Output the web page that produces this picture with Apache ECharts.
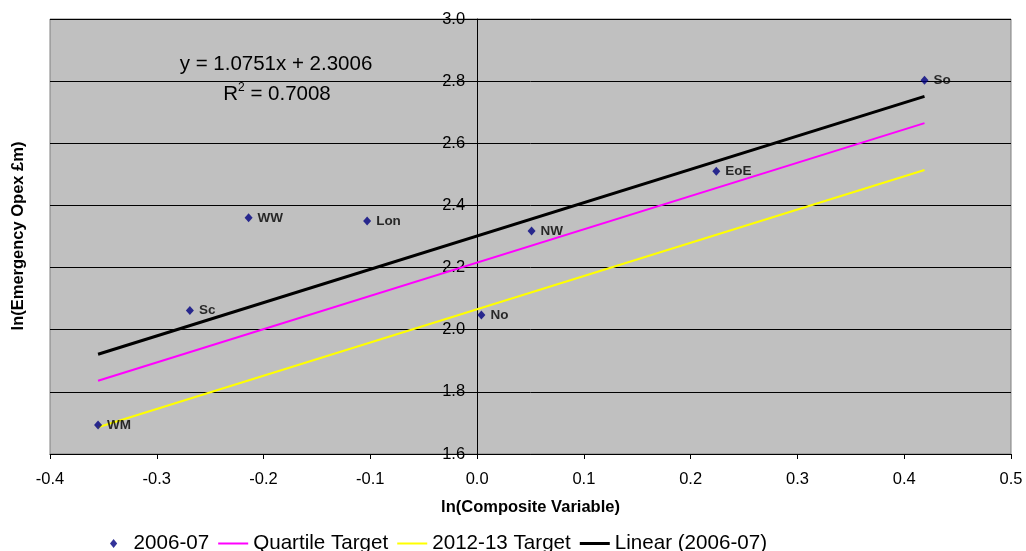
<!DOCTYPE html>
<html>
<head>
<meta charset="utf-8">
<script src="https://cdn.jsdelivr.net/npm/echarts@6/dist/echarts.min.js"></script>
<style>
html,body{margin:0;padding:0;background:#fff;}
#chart{width:1026px;height:551px;}
</style>
</head>
<body>
<div id="chart"></div>
<script>
// ---- data ----
const regionNames = ['WM', 'Sc', 'WW', 'Lon', 'No', 'NW', 'EoE', 'So'];
const compositeX = [-0.355, -0.269, -0.214, -0.103, 0.004, 0.051, 0.224, 0.419];
const opexY = [1.693, 2.062, 2.360, 2.350, 2.047, 2.318, 2.510, 2.803];

const lineX = [-0.355, 0.419];
const quartileY = [1.836, 2.665];
const target1213Y = [1.686, 2.514];
const linearY = [1.921, 2.751];

const xTicks = [-0.4, -0.3, -0.2, -0.1, 0.0, 0.1, 0.2, 0.3, 0.4, 0.5];
const yTicks = [1.6, 1.8, 2.0, 2.2, 2.4, 2.6, 2.8, 3.0];

const seriesNames = ['2006-07', 'Quartile Target', '2012-13 Target', 'Linear (2006-07)'];
const equationText = 'y = 1.0751x + 2.3006';
const r2Text = '0.7008';
const xTitle = 'ln(Composite Variable)';
const yTitle = 'ln(Emergency Opex £m)';

const FONT = '"Liberation Sans", Arial, Helvetica, sans-serif';

const scatterData = regionNames.map((n, i) => ({ name: n, value: [compositeX[i], opexY[i]] }));
const pairs = (xs, ys) => xs.map((x, i) => [x, ys[i]]);

const chart = echarts.init(document.getElementById('chart'), null, { renderer: 'canvas' });
chart.setOption({
  animation: false,
  backgroundColor: '#ffffff',
  textStyle: { fontFamily: FONT },
  grid: {
    left: 50, right: 15, top: 19, bottom: 97,
    show: true, backgroundColor: '#C0C0C0', borderColor: '#808080', borderWidth: 1
  },
  xAxis: {
    type: 'value',
    min: xTicks[0], max: xTicks[xTicks.length - 1], interval: 0.1,
    name: xTitle, nameLocation: 'middle', nameGap: 45,
    nameTextStyle: { fontSize: 16.5, fontWeight: 'bold', color: '#000', fontFamily: FONT },
    axisLine: { show: true, onZero: false, lineStyle: { color: '#000', width: 1 } },
    axisTick: { show: true, length: 5, inside: false, lineStyle: { color: '#000' } },
    axisLabel: { margin: 17, fontSize: 16.5, color: '#000', fontFamily: FONT,
      formatter: v => v.toFixed(1) },
    splitLine: { show: false }
  },
  yAxis: {
    type: 'value',
    min: yTicks[0], max: yTicks[yTicks.length - 1], interval: 0.2,
    axisLine: { show: true, onZero: false, lineStyle: { color: '#000', width: 1 } },
    axisTick: { show: true, length: 5, inside: false, lineStyle: { color: '#000' } },
    axisLabel: { margin: 12, fontSize: 16.5, color: '#000', fontFamily: FONT,
      formatter: v => v.toFixed(1) },
    splitLine: { show: true, lineStyle: { color: '#000', width: 1 } }
  },
  legend: {
    left: 105, top: 528,
    itemWidth: 30, itemHeight: 9, itemGap: 9,
    symbolKeepAspect: true,
    itemStyle: { borderWidth: 0 },
    textStyle: { fontSize: 20.6, color: '#000', fontFamily: FONT },
    data: [
      { name: seriesNames[0], icon: 'path://M4,0L8,5L4,10L0,5Z' },
      { name: seriesNames[1], icon: 'path://M0,0L30,0L30,2L0,2Z' },
      { name: seriesNames[2], icon: 'path://M0,0L30,0L30,2L0,2Z' },
      { name: seriesNames[3], icon: 'path://M0,0L30,0L30,3L0,3Z' }
    ],
    selectedMode: false
  },
  series: [
    {
      name: seriesNames[1], type: 'line', data: pairs(lineX, quartileY),
      symbol: 'none', lineStyle: { color: '#FF00FF', width: 2 }, itemStyle: { color: '#FF00FF' },
      z: 2, emphasis: { disabled: true }
    },
    {
      name: seriesNames[2], type: 'line', data: pairs(lineX, target1213Y),
      symbol: 'none', lineStyle: { color: '#FFFF00', width: 2 }, itemStyle: { color: '#FFFF00' },
      z: 2, emphasis: { disabled: true }
    },
    {
      name: seriesNames[3], type: 'line', data: pairs(lineX, linearY),
      symbol: 'none', lineStyle: { color: '#000000', width: 3 }, itemStyle: { color: '#000000' },
      z: 2, emphasis: { disabled: true }
    },
    {
      name: seriesNames[0], type: 'scatter', data: scatterData,
      symbol: 'diamond', symbolSize: [8, 9],
      itemStyle: { color: '#000080' },
      label: { show: true, position: 'right', distance: 5, formatter: '{b}',
        fontSize: 13.5, fontWeight: 'bold', color: '#000', fontFamily: FONT },
      z: 3, emphasis: { disabled: true }
    }
  ],
  graphic: [
    {
      type: 'text', x: 18, y: 236, rotation: Math.PI / 2, silent: true,
      style: { text: yTitle, fill: '#000', font: 'bold 16.5px ' + FONT,
        textAlign: 'center', textVerticalAlign: 'middle', align: 'center', verticalAlign: 'middle' }
    },
    {
      type: 'text', x: 276, y: 64, silent: true,
      style: { text: equationText, fill: '#000', font: '20.5px ' + FONT,
        textAlign: 'center', textVerticalAlign: 'middle', align: 'center', verticalAlign: 'middle' }
    },
    {
      type: 'text', x: 277, y: 94, silent: true,
      style: {
        text: '{r|R}{s|2}{r| = ' + r2Text + '}',
        fill: '#000',
        textAlign: 'center', textVerticalAlign: 'middle', align: 'center', verticalAlign: 'middle',
        rich: {
          r: { fontSize: 20.5, lineHeight: 24, fontFamily: FONT, fill: '#000' },
          s: { fontSize: 12, lineHeight: 12, verticalAlign: 'top', fontFamily: FONT, fill: '#000' }
        }
      }
    }
  ]
});

// Place the value axis so that it crosses the x axis at zero (as in the reference).
const leftPx = chart.convertToPixel({ xAxisIndex: 0 }, xTicks[0]);
const zeroPx = chart.convertToPixel({ xAxisIndex: 0 }, 0);
chart.setOption({ yAxis: { offset: -(zeroPx - leftPx) } });
</script>
</body>
</html>
